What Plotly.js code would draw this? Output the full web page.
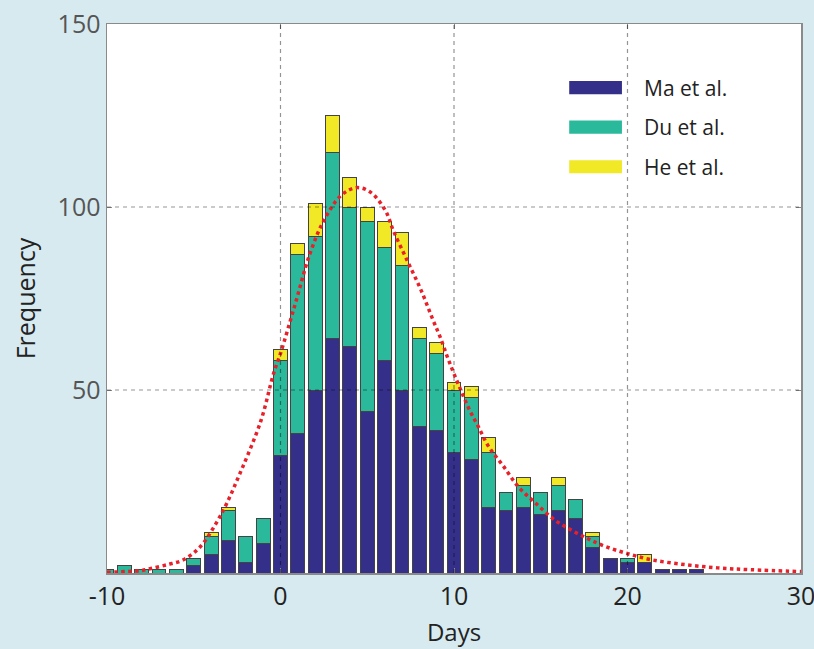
<!DOCTYPE html>
<html>
<head>
<meta charset="utf-8">
<script src="https://cdn.plot.ly/plotly-3.0.1.min.js"></script>
<style>html,body{margin:0;padding:0;background:#d7eaf0;}#chart{width:814px;height:649px;}</style>
</head>
<body>
<div id="chart"></div>
<script>
// Bin centres (days)
const days = [-10,-9,-8,-7,-6,-5,-4,-3,-2,-1,0,1,2,3,4,5,6,7,8,9,10,11,12,13,14,15,16,17,18,19,20,21,22,23,24];
// Frequencies per study (stacked)
const maCounts = [0,0,0,0,0,2,5,9,3,8,32,38,50,64,62,44,58,50,40,39,33,31,18,17,18,16,17,15,7,4,3,3,1,1,1];
const duCounts = [1,2,1,1,1,2,5,8,7,7,26,49,42,51,38,52,31,34,24,21,17,17,15,5,6,6,7,5,3,0,1,0,0,0,0];
const heCounts = [0,0,0,0,0,0,1,1,0,0,3,3,9,10,8,4,7,9,3,3,2,3,4,0,2,0,2,0,1,0,0,2,0,0,0];
const seriesNames = ["Ma et al.", "Du et al.", "He et al."];
// Fitted curve
const fitX = [-10,-8,-7.6,-6.5,-5.6,-4.6,-3.6,-3.1,-2.5,-1.15,-0.4,0,0.8,1.7,2.5,3.5,4.4,5.2,6.05,6.5,7.3,8.1,8.8,9.2,9.7,10.3,10.9,11.4,12,12.8,13.7,14.7,15.8,16.8,17.75,18.7,19.85,21.4,23.3,25.2,27.1,30];
const fitY = [0.2,0.7,1.1,2.3,3.6,7.3,14.5,19,25.4,41.3,54.5,60,72.7,87.3,96.3,103.2,105.3,104,99,93.6,85.4,77.3,69,64.5,58,51,44.5,40,34.5,29.5,23.6,19.1,14.5,11.6,9.3,7.3,5.5,3.6,2.3,1.4,0.9,0.4];
const xTicks = [-10,0,10,20,30];
const yTicks = [50,100,150];
const gridX = [0,10,20];
const gridY = [50,100];

const colors = ["#34308a", "#2bb99b", "#f1e826"];
const nz = a => a.map(v => v === 0 ? null : v);
const counts = [maCounts, duCounts, heCounts];

const traces = counts.map((c, i) => ({
  type: "bar", x: days, y: nz(c), name: seriesNames[i],
  marker: {color: colors[i], line: {color: "#444", width: 1}},
  showlegend: false, hoverinfo: "x+y+name"
}));
traces.push({
  type: "scatter", mode: "lines", x: fitX, y: fitY,
  line: {color: "#e8202a", width: 3.5, dash: "3.5px,3.5px", shape: "spline"},
  showlegend: false
});

const shapes = [];
gridX.forEach(v => shapes.push({type:"line", layer:"above", xref:"x", yref:"paper", x0:v, x1:v, y0:0, y1:1,
  line:{color:"rgba(0,0,0,0.42)", width:1.2, dash:"4px,4px"}}));
gridY.forEach(v => shapes.push({type:"line", layer:"above", xref:"paper", yref:"y", x0:0, x1:1, y0:v, y1:v,
  line:{color:"rgba(0,0,0,0.42)", width:1.2, dash:"4px,4px"}}));

// Custom legend (wide swatches)
const annotations = [];
const legY = [0.884, 0.812, 0.740];
seriesNames.forEach((n, i) => {
  shapes.push({type:"rect", layer:"above", xref:"paper", yref:"paper", x0:0.666, x1:0.742,
    y0:legY[i]-0.012, y1:legY[i]+0.012, fillcolor:colors[i], line:{width:0}});
  annotations.push({xref:"paper", yref:"paper", x:0.771, y:legY[i], xanchor:"left", yanchor:"middle",
    text:n, showarrow:false, font:{family:"Open Sans, sans-serif", size:21, color:"#222"}});
});

const layout = {
  width: 814, height: 649,
  margin: {l:107, r:13, t:24, b:76},
  paper_bgcolor: "#d7eaf0", plot_bgcolor: "#ffffff",
  barmode: "stack", bargap: 0.2,
  font: {family: "Open Sans, sans-serif"},
  xaxis: {
    range: [-10, 30], tickvals: xTicks, ticktext: xTicks.map(String),
    showgrid: false, zeroline: false, ticklabeloverflow: "allow",
    showline: true, linecolor: "#8a8a8a", linewidth: 1.5, mirror: "ticks",
    ticks: "inside", ticklen: 5, tickcolor: "#8a8a8a",
    tickfont: {size: 25, color: "#222"},
    title: {text: "Days", font: {size: 24, color: "#222"}, standoff: 13}
  },
  yaxis: {
    range: [0, 150], tickvals: yTicks, ticktext: yTicks.map(String),
    showgrid: false, zeroline: false, ticklabeloverflow: "allow",
    showline: true, linecolor: "#8a8a8a", linewidth: 1.5, mirror: "ticks",
    ticks: "inside", ticklen: 5, tickcolor: "#8a8a8a",
    tickfont: {size: 25, color: "#555"},
    title: {text: "Frequency", font: {size: 25, color: "#222"}, standoff: 15}
  },
  shapes: shapes,
  annotations: annotations
};
Plotly.newPlot("chart", traces, layout, {displayModeBar: false, staticPlot: true});
</script>
</body>
</html>
